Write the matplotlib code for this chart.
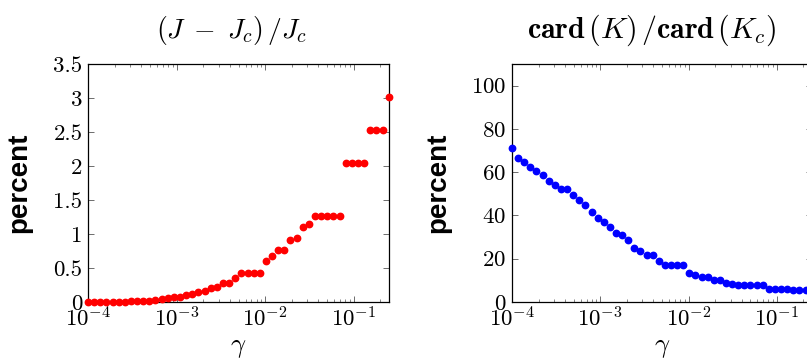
import matplotlib
matplotlib.use('Agg')
import matplotlib.pyplot as plt
from matplotlib.ticker import LogLocator, NullFormatter

plt.rcParams['mathtext.fontset'] = 'cm'
plt.rcParams['font.family'] = 'serif'
plt.rcParams['font.serif'] = ['cmr10']
plt.rcParams['axes.formatter.use_mathtext'] = True
plt.rcParams['axes.unicode_minus'] = False

# gamma grid (log spaced, 1e-4 .. 0.25)
gamma = [1.000e-04, 1.173e-04, 1.376e-04, 1.614e-04, 1.893e-04, 2.220e-04, 2.604e-04,
         3.054e-04, 3.582e-04, 4.202e-04, 4.928e-04, 5.780e-04, 6.780e-04, 7.952e-04,
         9.327e-04, 1.094e-03, 1.283e-03, 1.505e-03, 1.765e-03, 2.070e-03, 2.428e-03,
         2.848e-03, 3.341e-03, 3.918e-03, 4.596e-03, 5.390e-03, 6.323e-03, 7.416e-03,
         8.698e-03, 1.020e-02, 1.197e-02, 1.403e-02, 1.646e-02, 1.931e-02, 2.265e-02,
         2.656e-02, 3.116e-02, 3.654e-02, 4.286e-02, 5.027e-02, 5.897e-02, 6.916e-02,
         8.112e-02, 9.515e-02, 1.116e-01, 1.309e-01, 1.535e-01, 1.801e-01, 2.112e-01,
         2.500e-01]

# (J - Jc)/Jc in percent
cost_gap = [0.0, 0.0, 0.0, 0.0, 0.0, 0.003, 0.005, 0.008, 0.01, 0.015,
            0.02, 0.03, 0.04, 0.055, 0.07, 0.08, 0.1, 0.12, 0.14, 0.16,
            0.2, 0.22, 0.28, 0.28, 0.35, 0.42, 0.42, 0.42, 0.42, 0.6,
            0.67, 0.76, 0.76, 0.91, 0.94, 1.1, 1.14, 1.26, 1.26, 1.26,
            1.26, 1.26, 2.05, 2.05, 2.05, 2.05, 2.53, 2.53, 2.53, 3.02]

# card(K)/card(Kc) in percent
card_ratio = [71, 66.5, 64.5, 62.5, 60.5, 58.5, 56, 54, 52, 52,
              49.5, 47, 45, 41.5, 39, 37, 34.5, 32, 31, 28.5,
              25, 23.5, 21.5, 21.5, 19, 17, 17, 17, 17, 13.5,
              12.5, 11.5, 11.5, 10, 10, 9, 8.5, 8, 8, 8,
              8, 8, 6, 6, 6, 6, 5.5, 5.5, 5.5, 5.5]

left_yticks = [0, 0.5, 1, 1.5, 2, 2.5, 3, 3.5]
left_ylabels = ['0', '0.5', '1', '1.5', '2', '2.5', '3', '3.5']
right_yticks = [0, 20, 40, 60, 80, 100]
xticks = [1e-4, 1e-3, 1e-2, 1e-1]

W, H = 807, 362
fig = plt.figure(figsize=(W / 100, H / 100), dpi=100)


def make_axes(x0, x1, y_top, y_bot):
    return fig.add_axes([x0 / W, 1 - y_bot / H, (x1 - x0) / W, (y_bot - y_top) / H])


def style(ax, yticks, ylim, ylabels=None, ylabelpad=14):
    ax.set_xscale('log')
    ax.set_xlim(1e-4, 0.25)
    ax.set_ylim(*ylim)
    ax.set_xticks(xticks)
    ax.xaxis.set_minor_locator(LogLocator(base=10, subs=range(2, 10), numticks=20))
    ax.xaxis.set_minor_formatter(NullFormatter())
    ax.set_yticks(yticks)
    if ylabels is not None:
        ax.set_yticklabels(ylabels)
    ax.tick_params(which='both', direction='in', top=True, right=True, labelsize=16.5, pad=4)
    ax.tick_params(axis='x', pad=3)
    ax.tick_params(which='major', length=4, width=0.6, color='#555555')
    ax.tick_params(which='minor', length=2, width=0.5, color='#555555')
    for s in ax.spines.values():
        s.set_linewidth(0.9)
    ax.set_xlabel(r'$\gamma$', fontsize=19, labelpad=4)
    ax.set_ylabel('percent', fontsize=20, fontweight='bold',
                  family=['Liberation Sans', 'DejaVu Sans'], labelpad=ylabelpad)


ax1 = make_axes(88, 389, 64, 302)
ax1.plot(gamma, cost_gap, 'o', color='#ff0000', markersize=4.6, clip_on=False, zorder=3)
style(ax1, left_yticks, (0, 3.5), left_ylabels, ylabelpad=15)
ax1.set_title(r'$(J\;-\;J_c)\,/J_c$', fontsize=20, pad=19, x=0.478)

ax2 = make_axes(512, 812, 64, 302)
ax2.plot(gamma, card_ratio, 'o', color='#0000ff', markersize=4.6, clip_on=False, zorder=3)
style(ax2, right_yticks, (0, 110), ylabelpad=14)
ax2.set_title(r'$\mathbf{card}\,(K)\,/\mathbf{card}\,(K_c)$', fontsize=21.5, pad=19, x=0.467)

fig.savefig('out.png', dpi=100)
